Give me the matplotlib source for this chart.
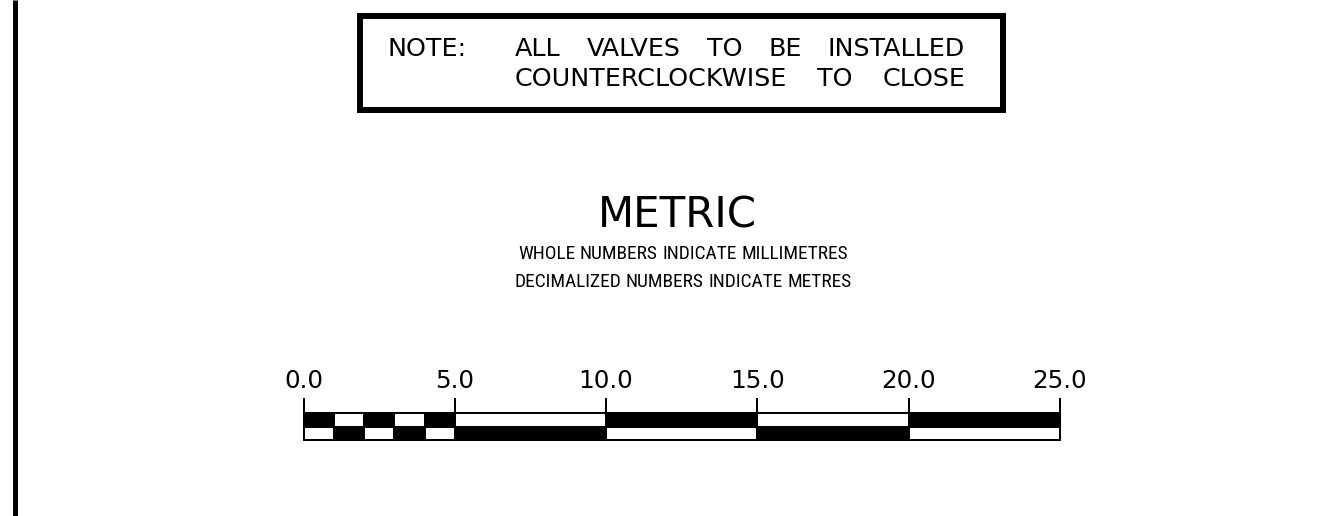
import numpy as np
import matplotlib
matplotlib.use("Agg")
import matplotlib.pyplot as plt
from matplotlib.patches import Rectangle

# ---------------- data ----------------
note_label = "NOTE:"
note_lines = ["ALL VALVES TO BE INSTALLED", "COUNTERCLOCKWISE TO CLOSE"]
title = "METRIC"
subtitles = ["WHOLE NUMBERS INDICATE MILLIMETRES", "DECIMALIZED NUMBERS INDICATE METRES"]

major_ticks = [0, 5, 10, 15, 20, 25]
tick_labels = ["0.0", "5.0", "10.0", "15.0", "20.0", "25.0"]
segment_edges = [0, 1, 2, 3, 4, 5, 10, 15, 20, 25]
top_row_black = [1, 0, 1, 0, 1, 0, 1, 0, 1]
bottom_row_black = [0, 1, 0, 1, 0, 1, 0, 1, 0]

# ---------------- figure ----------------
W, H, DPI = 1329, 516, 100
fig = plt.figure(figsize=(W / DPI, H / DPI), dpi=DPI, facecolor="white")
PX2PT = 72.0 / DPI

page = fig.add_axes([0, 0, 1, 1])
page.set_xlim(0, W)
page.set_ylim(H, 0)
page.axis("off")

renderer = fig.canvas.get_renderer()

WIDE = "DejaVu Sans"
NARROW = ["Roboto Condensed", "DejaVu Sans"]


def size_for_cap(cap_px, ratio=0.729):
    return cap_px / ratio * PX2PT


def justify(text, x0, x1, y, size, family, weight="normal"):
    words = text.split()
    arts = [page.text(0, y, w, fontsize=size, family=family, weight=weight,
                      ha="left", va="baseline", color="black") for w in words]
    widths = [a.get_window_extent(renderer).width for a in arts]
    gap = (x1 - x0 - sum(widths)) / max(len(words) - 1, 1)
    x = x0
    for a, w in zip(arts, widths):
        a.set_x(x)
        x += w + gap


# left border
page.plot([14.5, 14.5], [0, H], color="black", lw=5 * PX2PT, solid_capstyle="butt")

# note box
page.add_patch(Rectangle((360, 15.5), 643, 94.5, fill=False, edgecolor="black",
                         lw=6 * PX2PT, joinstyle="miter"))

note_size = size_for_cap(18.5)
page.text(388, 56, note_label, fontsize=note_size, family=WIDE,
          ha="left", va="baseline", color="black")
justify(note_lines[0], 515, 965, 56, note_size, WIDE)
justify(note_lines[1], 515, 965, 86, note_size, WIDE)

# title
page.text(677.5, 227, title, fontsize=size_for_cap(30.5), family=WIDE,
          ha="center", va="baseline", color="black")

sub_size = size_for_cap(13.8, 0.711)
justify(subtitles[0], 518, 848, 259, sub_size, NARROW)
justify(subtitles[1], 514, 852, 287, sub_size, NARROW)

# ---------------- scale bar ----------------
x0_px, x1_px = 303.5, 1060.0
ybot_px, ytop_px = 440.0, 398.0
unit = 13.5
ax = fig.add_axes([x0_px / W, (H - ybot_px) / H, (x1_px - x0_px) / W,
                   (ybot_px - ytop_px) / H])
ax.set_xlim(0, 25)
ax.set_ylim(0, (ybot_px - ytop_px) / unit)
ax.axis("off")

edges = np.array(segment_edges, dtype=float)
widths = np.diff(edges)
lw = 2 * PX2PT
ax.barh(1.5, widths, left=edges[:-1], height=1.0,
        color=["black" if b else "white" for b in top_row_black],
        edgecolor="black", linewidth=lw, clip_on=False)
ax.barh(0.5, widths, left=edges[:-1], height=1.0,
        color=["black" if b else "white" for b in bottom_row_black],
        edgecolor="black", linewidth=lw, clip_on=False)
ax.vlines(major_ticks, 2.0, (ybot_px - ytop_px) / unit, color="black",
          linewidth=lw, clip_on=False)

label_y = (ybot_px - 388.0) / unit
for t, lab in zip(major_ticks, tick_labels):
    ax.text(t, label_y, lab, fontsize=size_for_cap(18), family="DejaVu Sans",
            ha="center", va="baseline", color="black", clip_on=False)

fig.savefig("out.png", dpi=DPI, facecolor="white")
